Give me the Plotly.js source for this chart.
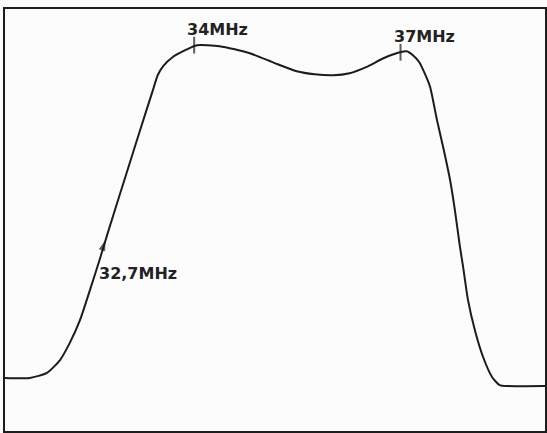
<!DOCTYPE html>
<html>
<head>
<meta charset="utf-8">
<script src="https://cdn.plot.ly/plotly-3.0.1.min.js"></script>
<style>html,body{margin:0;padding:0;background:#fcfcfc;}#chart{width:547px;height:433px;}</style>
</head>
<body>
<div id="chart"></div>
<script>
// Frequency (MHz) along the sweep, relative response level (%)
const freqMHz = [31.25, 31.61, 31.86, 32.05, 32.19, 32.34, 32.48, 32.63, 32.75, 32.88, 33.02, 33.21, 33.40, 33.47, 33.55, 33.69, 33.87, 34.04, 34.37, 34.81, 35.17, 35.49, 35.75, 36.02, 36.26, 36.50, 36.76, 36.99, 37.09, 37.18, 37.27, 37.35, 37.43, 37.53, 37.62, 37.72, 37.79, 37.86, 37.91, 37.98, 38.08, 38.20, 38.33, 38.44, 38.56, 39.10];
const response = [1.2, 1.2, 2.7, 6.5, 11.5, 18.3, 26.9, 36.5, 44.5, 53.0, 62.0, 74.3, 86.4, 90.8, 93.5, 96.2, 98.2, 99.7, 99.4, 97.3, 94.4, 92.0, 91.1, 90.8, 91.4, 93.2, 95.9, 97.6, 97.9, 96.7, 94.7, 91.4, 87.3, 77.5, 69.5, 59.8, 50.9, 40.5, 34.0, 24.3, 15.4, 7.4, 1.5, -0.9, -1.2, -1.2];

// Marked frequencies
const markFreq = [32.7, 34, 37];
const markLevel = [41.5, 99.7, 97.6];
const markLabels = ["32,7MHz", "34MHz", "37MHz"];

const ink = "#1c1c1c";
const labelFont = {family: "DejaVu Sans", size: 16, color: "#222", weight: "bold"};

const traces = [
  {
    x: freqMHz, y: response, type: "scatter", mode: "lines",
    line: {color: ink, width: 2, shape: "spline", smoothing: 0.6},
    hoverinfo: "skip"
  },
  {
    x: markFreq, y: markLevel, type: "scatter", mode: "markers",
    marker: {symbol: ["arrow", "line-ns", "line-ns"], size: [9, 12, 12], angle: [18, 0, 0],
             color: ink, line: {color: ink, width: [1, 2, 2]}},
    hoverinfo: "skip"
  }
];

const annotations = markLabels.map((t, i) => {
  const low = i === 0;
  return {
    x: markFreq[i], y: markLevel[i], text: t, showarrow: false,
    xanchor: "left", yanchor: low ? "top" : "bottom",
    xshift: low ? -8 : -9, yshift: low ? -20 : 4,
    font: labelFont
  };
});

const layout = {
  width: 547, height: 433,
  margin: {l: 5, r: 2, t: 9, b: 2},
  paper_bgcolor: "#fcfcfc", plot_bgcolor: "#fcfcfc",
  showlegend: false,
  xaxis: {range: [31.25, 39.10], showgrid: false, zeroline: false, showticklabels: false, ticks: "",
          showline: true, mirror: true, linecolor: ink, linewidth: 2},
  yaxis: {range: [-14.5, 110.4], showgrid: false, zeroline: false, showticklabels: false, ticks: "",
          showline: true, mirror: true, linecolor: ink, linewidth: 2},
  annotations: annotations
};

Plotly.newPlot("chart", traces, layout, {displayModeBar: false, staticPlot: true});
</script>
</body>
</html>
